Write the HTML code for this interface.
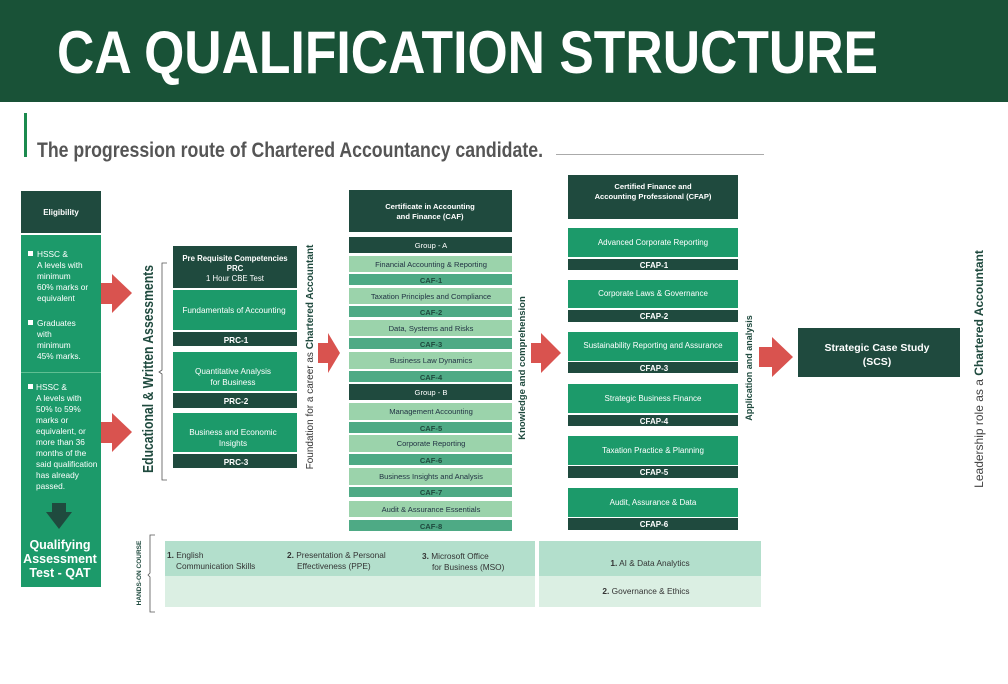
<!DOCTYPE html>
<html><head><meta charset="utf-8"><style>
html,body{margin:0;padding:0;background:#fff;}
svg{display:block;font-family:"Liberation Sans",sans-serif;}
.w{fill:#fff;}
.d{fill:#1f4a3e;}
.g{fill:#1c9a6a;}
.l{fill:#9bd3ab;}
.m{fill:#4eaa85;}
.r{fill:#d9534f;}
</style></head><body>
<svg width="1008" height="684" viewBox="0 0 1008 684" xmlns="http://www.w3.org/2000/svg">
<rect x="0" y="0" width="1008" height="102" fill="#195237"/>
<text x="57" y="73" font-size="60" font-weight="bold" class="w" textLength="821" lengthAdjust="spacingAndGlyphs">CA QUALIFICATION STRUCTURE</text>
<rect x="24" y="113" width="3" height="44" fill="#1b8a4e"/>
<text x="37" y="157" font-size="21" font-weight="bold" fill="#555" textLength="506" lengthAdjust="spacingAndGlyphs">The progression route of Chartered Accountancy candidate.</text>
<rect x="556" y="154" width="208" height="1" fill="#aaa"/>

<!-- Eligibility -->
<rect x="21" y="191" width="80" height="42" class="d"/>
<text x="61" y="215" font-size="8" font-weight="bold" class="w" text-anchor="middle">Eligibility</text>
<rect x="21" y="235" width="80" height="352" class="g"/>
<rect x="21" y="372" width="80" height="1" fill="#5fbf92"/>
<g font-size="8.3" class="w">
<rect x="28" y="251" width="5" height="5" fill="#fff"/>
<text x="37" y="257">HSSC &amp;</text><text x="37" y="268">A levels with</text><text x="37" y="279">minimum</text><text x="37" y="290">60% marks or</text><text x="37" y="301">equivalent</text>
<rect x="28" y="320" width="5" height="5" fill="#fff"/>
<text x="37" y="326">Graduates</text><text x="37" y="337">with</text><text x="37" y="348">minimum</text><text x="37" y="359">45% marks.</text>
<rect x="28" y="384" width="5" height="5" fill="#fff"/>
<text x="36" y="390">HSSC &amp;</text><text x="36" y="401">A levels with</text><text x="36" y="412">50% to 59%</text><text x="36" y="423">marks or</text><text x="36" y="434">equivalent, or</text><text x="36" y="445">more than 36</text><text x="36" y="456">months of the</text><text x="36" y="467">said qualification</text><text x="36" y="478">has already</text><text x="36" y="489">passed.</text>
</g>
<polygon points="52,503 66,503 66,512 72,512 59,529 46,512 52,512" class="d"/>
<g font-size="12.5" font-weight="bold" class="w" text-anchor="middle">
<text x="60" y="549">Qualifying</text><text x="60" y="563">Assessment</text><text x="60" y="577">Test - QAT</text></g>

<!-- arrows -->
<polygon points="101,283 112,283 112,274 132,293 112,313 112,304 101,304" class="r"/>
<polygon points="101,422 112,422 112,413 132,432 112,452 112,443 101,443" class="r"/>
<polygon points="318,343 328,343 328,333 340,353 328,373 328,363 318,363" class="r"/>
<polygon points="531,343 541,343 541,333 561,353 541,373 541,363 531,363" class="r"/>
<polygon points="759,347 772,347 772,337 793,357 772,377 772,367 759,367" class="r"/>

<!-- Educational bracket -->
<path d="M167,263 H162 V370 L159,372 L162,374 V480 H167" fill="none" stroke="#555" stroke-width="0.8"/>
<text transform="translate(153,369) rotate(-90)" font-size="14.5" font-weight="bold" fill="#1f4a3e" text-anchor="middle" textLength="208" lengthAdjust="spacingAndGlyphs">Educational &amp;  Written Assessments</text>

<!-- PRC -->
<rect x="173" y="246" width="124" height="42" class="d"/>
<g text-anchor="middle" class="w">
<text x="235" y="261" font-size="7.8" font-weight="bold">Pre Requisite Competencies</text>
<text x="235" y="271" font-size="7.8" font-weight="bold">PRC</text>
<text x="235" y="281" font-size="7.8">1 Hour CBE Test</text></g>
<rect x="173" y="290" width="124" height="40" class="g"/>
<rect x="173" y="332" width="124" height="14" class="d"/>
<rect x="173" y="352" width="124" height="39" class="g"/>
<rect x="173" y="393" width="124" height="15" class="d"/>
<rect x="173" y="413" width="124" height="39" class="g"/>
<rect x="173" y="454" width="124" height="14" class="d"/>
<g text-anchor="middle" class="w" font-size="8.2">
<text x="234" y="313">Fundamentals of Accounting</text>
<text x="236" y="343" font-weight="bold">PRC-1</text>
<text x="233" y="374">Quantitative Analysis</text><text x="233" y="385">for Business</text>
<text x="236" y="404" font-weight="bold">PRC-2</text>
<text x="233" y="435">Business and Economic</text><text x="233" y="446">Insights</text>
<text x="236" y="465" font-weight="bold">PRC-3</text></g>
<text transform="translate(313,357) rotate(-90)" font-size="10" fill="#333" text-anchor="middle">Foundation for a career as <tspan font-weight="bold" fill="#1f4a3e">Chartered Accountant</tspan></text>

<!-- CAF -->
<rect x="349" y="190" width="163" height="42" class="d"/>
<g text-anchor="middle" class="w" font-size="7.6" font-weight="bold">
<text x="430" y="209">Certificate in Accounting</text><text x="430" y="219">and Finance (CAF)</text></g>
<rect x="349" y="237" width="163" height="16" class="d"/>
<rect x="349" y="256" width="163" height="16" class="l"/>
<rect x="349" y="274" width="163" height="11" class="m"/>
<rect x="349" y="288" width="163" height="16" class="l"/>
<rect x="349" y="306" width="163" height="11" class="m"/>
<rect x="349" y="320" width="163" height="16" class="l"/>
<rect x="349" y="338" width="163" height="11" class="m"/>
<rect x="349" y="352" width="163" height="17" class="l"/>
<rect x="349" y="371" width="163" height="11" class="m"/>
<rect x="349" y="384" width="163" height="16" class="d"/>
<rect x="349" y="403" width="163" height="17" class="l"/>
<rect x="349" y="422" width="163" height="11" class="m"/>
<rect x="349" y="435" width="163" height="17" class="l"/>
<rect x="349" y="454" width="163" height="11" class="m"/>
<rect x="349" y="468" width="163" height="17" class="l"/>
<rect x="349" y="487" width="163" height="10" class="m"/>
<rect x="349" y="501" width="163" height="16" class="l"/>
<rect x="349" y="520" width="163" height="11" class="m"/>
<g text-anchor="middle" font-size="7.6">
<text x="431" y="248" class="w">Group - A</text>
<text x="431" y="267" fill="#234">Financial Accounting &amp; Reporting</text>
<text x="431" y="283" fill="#1f4a3e" font-weight="bold">CAF-1</text>
<text x="431" y="299" fill="#234">Taxation Principles and Compliance</text>
<text x="431" y="315" fill="#1f4a3e" font-weight="bold">CAF-2</text>
<text x="431" y="331" fill="#234">Data, Systems and Risks</text>
<text x="431" y="347" fill="#1f4a3e" font-weight="bold">CAF-3</text>
<text x="431" y="363" fill="#234">Business Law Dynamics</text>
<text x="431" y="380" fill="#1f4a3e" font-weight="bold">CAF-4</text>
<text x="431" y="395" class="w">Group - B</text>
<text x="431" y="414" fill="#234">Management Accounting</text>
<text x="431" y="431" fill="#1f4a3e" font-weight="bold">CAF-5</text>
<text x="431" y="446" fill="#234">Corporate Reporting</text>
<text x="431" y="463" fill="#1f4a3e" font-weight="bold">CAF-6</text>
<text x="431" y="479" fill="#234">Business Insights and Analysis</text>
<text x="431" y="495" fill="#1f4a3e" font-weight="bold">CAF-7</text>
<text x="431" y="512" fill="#234">Audit &amp; Assurance Essentials</text>
<text x="431" y="529" fill="#1f4a3e" font-weight="bold">CAF-8</text></g>
<text transform="translate(525,368) rotate(-90)" font-size="9.5" font-weight="bold" fill="#1f4a3e" text-anchor="middle">Knowledge and comprehension</text>

<!-- CFAP -->
<rect x="568" y="175" width="170" height="44" class="d"/>
<g text-anchor="middle" class="w" font-size="7.6" font-weight="bold">
<text x="653" y="189">Certified Finance and</text><text x="653" y="199">Accounting Professional (CFAP)</text></g>
<rect x="568" y="228" width="170" height="29" class="g"/><rect x="568" y="259" width="170" height="11" class="d"/>
<rect x="568" y="280" width="170" height="28" class="g"/><rect x="568" y="310" width="170" height="12" class="d"/>
<rect x="568" y="332" width="170" height="29" class="g"/><rect x="568" y="362" width="170" height="11" class="d"/>
<rect x="568" y="384" width="170" height="29" class="g"/><rect x="568" y="415" width="170" height="11" class="d"/>
<rect x="568" y="436" width="170" height="29" class="g"/><rect x="568" y="466" width="170" height="12" class="d"/>
<rect x="568" y="488" width="170" height="29" class="g"/><rect x="568" y="518" width="170" height="12" class="d"/>
<g text-anchor="middle" class="w" font-size="8">
<text x="653" y="245">Advanced Corporate Reporting</text><text x="654" y="268" font-weight="bold">CFAP-1</text>
<text x="653" y="296">Corporate Laws &amp; Governance</text><text x="654" y="319" font-weight="bold">CFAP-2</text>
<text x="653" y="348">Sustainability Reporting and Assurance</text><text x="654" y="371" font-weight="bold">CFAP-3</text>
<text x="653" y="401">Strategic Business Finance</text><text x="654" y="424" font-weight="bold">CFAP-4</text>
<text x="653" y="453">Taxation Practice &amp; Planning</text><text x="654" y="475" font-weight="bold">CFAP-5</text>
<text x="653" y="505">Audit, Assurance &amp; Data</text><text x="654" y="527" font-weight="bold">CFAP-6</text></g>
<text transform="translate(752,368) rotate(-90)" font-size="9" font-weight="bold" fill="#1f4a3e" text-anchor="middle">Application and analysis</text>

<!-- SCS -->
<rect x="798" y="328" width="162" height="49" class="d"/>
<g text-anchor="middle" class="w" font-size="10.5" font-weight="bold">
<text x="877" y="351">Strategic Case Study</text><text x="877" y="365">(SCS)</text></g>
<text transform="translate(983,369) rotate(-90)" font-size="12" fill="#444" text-anchor="middle">Leadership role as a <tspan font-weight="bold" fill="#1f4a3e">Chartered Accountant</tspan></text>

<!-- hands-on -->
<text transform="translate(141,573) rotate(-90)" font-size="6.5" font-weight="bold" fill="#1f4a3e" text-anchor="middle">HANDS-ON COURSE</text>
<path d="M155,535 H150 V573 L148,575 L150,577 V612 H155" fill="none" stroke="#555" stroke-width="0.8"/>
<rect x="165" y="541" width="370" height="35" fill="#b3dfcc"/>
<rect x="165" y="576" width="370" height="31" fill="#dbefe3"/>
<rect x="539" y="541" width="222" height="35" fill="#b3dfcc"/>
<rect x="539" y="576" width="222" height="31" fill="#dbefe3"/>
<g font-size="8.3" fill="#333">
<text x="167" y="558"><tspan font-weight="bold">1.</tspan> English</text><text x="176" y="569">Communication Skills</text>
<text x="287" y="558"><tspan font-weight="bold">2.</tspan> Presentation &amp; Personal</text><text x="297" y="569">Effectiveness (PPE)</text>
<text x="422" y="559"><tspan font-weight="bold">3.</tspan> Microsoft Office</text><text x="432" y="570">for Business (MSO)</text>
<text x="650" y="566" text-anchor="middle"><tspan font-weight="bold">1.</tspan> AI &amp; Data Analytics</text>
<text x="646" y="594" text-anchor="middle"><tspan font-weight="bold">2.</tspan> Governance &amp; Ethics</text></g>
</svg>
</body></html>
